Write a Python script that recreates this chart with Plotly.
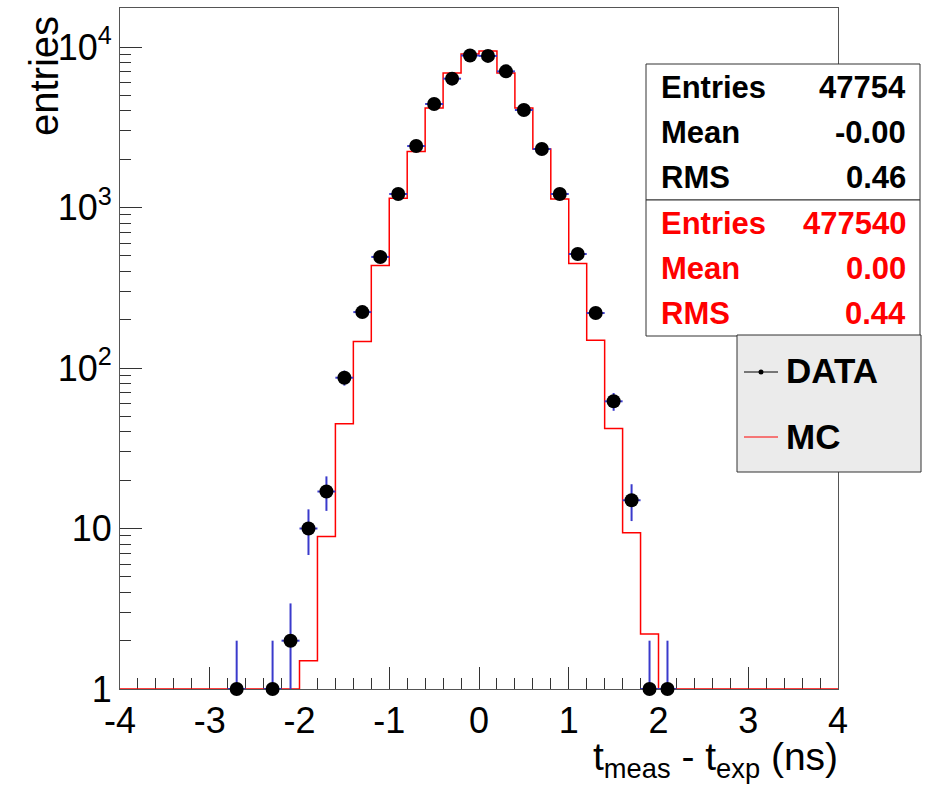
import numpy as np
import plotly.graph_objects as go

# ---------------- data ----------------
# measured time residuals (ns): bin centres and counts of the non-empty bins
data_x = [-2.7, -2.3, -2.1, -1.9, -1.7, -1.5, -1.3, -1.1, -0.9, -0.7, -0.5, -0.3,
          -0.1, 0.1, 0.3, 0.5, 0.7, 0.9, 1.1, 1.3, 1.5, 1.7, 1.9, 2.1]
data_y = [1, 1, 2, 10, 17, 87, 223, 492, 1214, 2415, 4415, 6350,
          8850, 8800, 7050, 4050, 2314, 1214, 513, 220, 62, 15, 1, 1]
bin_half_width = 0.1

# simulation histogram, normalised to the data; 40 bins of 0.2 ns from -4 to 4
mc_edges = [round(-4.0 + 0.2 * k, 1) for k in range(41)]
mc_counts = [0, 0, 0, 0, 0, 0, 0, 0, 0, 0,
             1.5, 8.9, 45, 146, 435, 1140, 2230, 4170, 6890, 9040,
             9440, 6890, 4170, 2314, 1130, 448, 149, 42, 9.4, 2.2,
             0, 0, 0, 0, 0, 0, 0, 0, 0, 0]

# statistics boxes
data_stats = [("Entries", "47754"), ("Mean", "-0.00"), ("RMS", "0.46")]
mc_stats = [("Entries", "477540"), ("Mean", "0.00"), ("RMS", "0.44")]

# axis ticks
x_ticks = [-4, -3, -2, -1, 0, 1, 2, 3, 4]
x_ticktext = ["-4", "-3", "-2", "-1", "0", "1", "2", "3", "4"]
y_ticks = [1, 10, 100, 1000, 10000]
y_ticktext = ["1", "10", "10<sup>2</sup>", "10<sup>3</sup>", "10<sup>4</sup>"]

# ---------------- layout constants ----------------
W, H = 927, 790
L, R, T, B = 120, 89, 8, 101
PW, PH = W - L - R, H - T - B
Y_MIN = 1.0
Y_MAX_LOG = 4.243
FONT = "Liberation Sans, Arial, Helvetica, sans-serif"
RED = "#ff0000"
BLUE = "#3a3acc"
FRAME = "#555555"


def px(xp):
    return (xp - L) / PW


def py(yp):
    return (H - B - yp) / PH


# ---------------- traces ----------------
dy = np.array(data_y, dtype=float)
err = np.sqrt(dy)
err_lo = np.minimum(err, dy - Y_MIN)

mc = np.array(mc_counts, dtype=float)
mc_plot = np.where(mc > 0, mc, Y_MIN)
mc_x = mc_edges
mc_y = list(mc_plot) + [mc_plot[-1]]

fig = go.Figure()

fig.add_trace(go.Scatter(
    x=mc_x, y=mc_y, mode="lines", line=dict(color=RED, width=1.5, shape="hv"),
    name="MC", showlegend=False, hoverinfo="skip"))

fig.add_trace(go.Scatter(
    x=data_x, y=data_y, mode="markers", name="DATA", showlegend=False,
    marker=dict(color="black", size=14, symbol="circle"),
    error_y=dict(type="data", array=err, arrayminus=err_lo, symmetric=False,
                 color=BLUE, thickness=2, width=0),
    error_x=dict(type="constant", value=bin_half_width, color=BLUE, thickness=2, width=0),
    cliponaxis=False))

# ---------------- axes ----------------
y_minor = [m * 10 ** d for d in range(0, 5) for m in range(2, 10) if m * 10 ** d < 10 ** Y_MAX_LOG]

fig.update_xaxes(
    range=[-4, 4], tickmode="array", tickvals=x_ticks, ticktext=x_ticktext,
    ticks="inside", ticklen=22, tickwidth=1, tickcolor="#333333",
    minor=dict(ticks="inside", ticklen=11, tickwidth=1, tickcolor="#333333",
               tick0=-4, dtick=0.2, showgrid=False),
    showline=True, linecolor=FRAME, linewidth=1, mirror=True,
    showgrid=False, zeroline=False, layer="below traces",
    tickfont=dict(family=FONT, size=36, color="black"))

fig.update_yaxes(
    type="log", range=[0, Y_MAX_LOG], tickmode="array", tickvals=y_ticks, ticktext=y_ticktext,
    ticks="inside", ticklen=22, tickwidth=1, tickcolor="#333333",
    minor=dict(ticks="inside", ticklen=11, tickwidth=1, tickcolor="#333333",
               tickmode="array", tickvals=y_minor, showgrid=False),
    showline=True, linecolor=FRAME, linewidth=1, mirror=True,
    showgrid=False, zeroline=False, layer="below traces",
    tickfont=dict(family=FONT, size=36, color="black"))

# ---------------- statistics boxes and legend ----------------
shapes = []
annotations = []

box_l, box_r = 646, 920
shapes.append(dict(type="rect", xref="paper", yref="paper", layer="above",
                   x0=px(box_l), x1=px(box_r), y0=py(200), y1=py(64),
                   fillcolor="white", line=dict(color="#333333", width=1)))
shapes.append(dict(type="rect", xref="paper", yref="paper", layer="above",
                   x0=px(box_l), x1=px(box_r), y0=py(336), y1=py(200),
                   fillcolor="white", line=dict(color="#333333", width=1)))

row_y = [87, 132, 177, 223, 268, 313]
for i, (label, value) in enumerate(data_stats + mc_stats):
    colour = "black" if i < 3 else RED
    f = dict(family=FONT, size=31, color=colour, weight="bold")
    annotations.append(dict(xref="paper", yref="paper", x=px(659), y=py(row_y[i]),
                            xanchor="left", yanchor="middle", text=label,
                            showarrow=False, font=f))
    annotations.append(dict(xref="paper", yref="paper", x=px(908), y=py(row_y[i]),
                            xanchor="right", yanchor="middle", text=value,
                            showarrow=False, font=f))

# legend box
shapes.append(dict(type="rect", xref="paper", yref="paper", layer="above",
                   x0=px(737), x1=px(921), y0=py(472), y1=py(335),
                   fillcolor="#ebebeb", line=dict(color="#333333", width=1)))
# DATA entry: line with a small marker
shapes.append(dict(type="line", xref="paper", yref="paper", layer="above",
                   x0=px(744), x1=px(778), y0=py(372), y1=py(372),
                   line=dict(color="black", width=1)))
shapes.append(dict(type="circle", xref="paper", yref="paper", layer="above",
                   x0=px(758.5), x1=px(763.5), y0=py(374.5), y1=py(369.5),
                   fillcolor="black", line=dict(color="black", width=0)))
# MC entry: red line
shapes.append(dict(type="line", xref="paper", yref="paper", layer="above",
                   x0=px(744), x1=px(778), y0=py(437), y1=py(437),
                   line=dict(color=RED, width=1)))
for text, yp in (("DATA", 371), ("MC", 436)):
    annotations.append(dict(xref="paper", yref="paper", x=px(784), y=py(yp),
                            xanchor="left", yanchor="middle", text=text, showarrow=False,
                            font=dict(family=FONT, size=35, color="black", weight="bold")))

# ---------------- axis titles ----------------
annotations.append(dict(xref="paper", yref="paper", x=px(44), y=py(14),
                        xanchor="center", yanchor="top", text="entries", textangle=-90,
                        showarrow=False, font=dict(family=FONT, size=40, color="black")))
annotations.append(dict(xref="paper", yref="paper", x=px(840), y=py(786),
                        xanchor="right", yanchor="bottom",
                        text="t<sub>meas</sub> - t<sub>exp</sub> (ns)", showarrow=False,
                        font=dict(family=FONT, size=39, color="black")))

fig.update_layout(
    width=W, height=H, margin=dict(l=L, r=R, t=T, b=B, pad=0),
    paper_bgcolor="white", plot_bgcolor="white",
    showlegend=False, shapes=shapes, annotations=annotations,
    font=dict(family=FONT, color="black"))

fig.write_html("out.html")
